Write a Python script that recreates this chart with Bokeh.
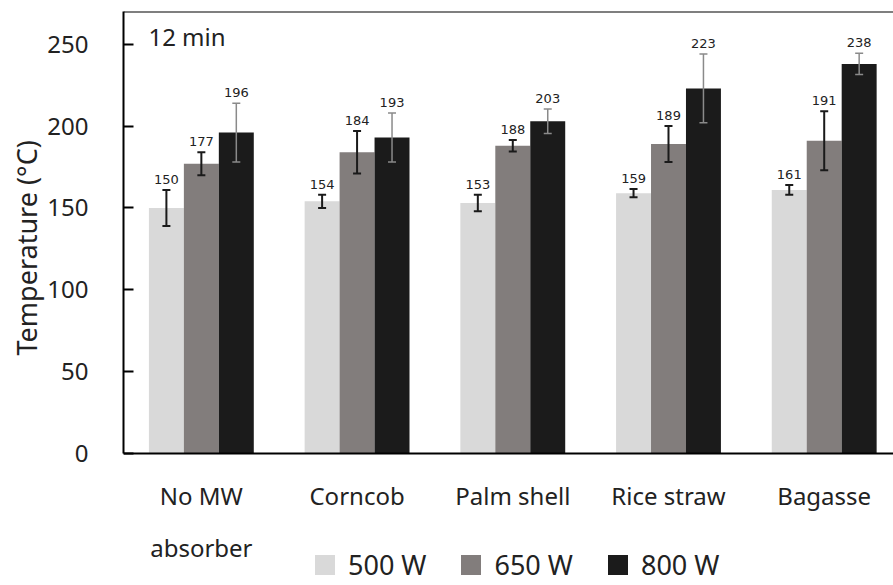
from bokeh.plotting import figure
from bokeh.models import (ColumnDataSource, Range1d, FixedTicker, Whisker, Span,
                          Label, Legend, LegendItem, TeeHead, Title)
from bokeh.core.properties import value
from bokeh.embed import file_html
from bokeh.resources import INLINE

# ---------------- data ----------------
categories = ["No MW\nabsorber", "Corncob", "Palm shell", "Rice straw", "Bagasse"]
series_names = ["500 W", "650 W", "800 W"]
temp_500 = [150, 154, 153, 159, 161]
temp_650 = [177, 184, 188, 189, 191]
temp_800 = [196, 193, 203, 223, 238]
err_500 = [11, 4, 5, 2.5, 3]
err_650 = [7, 13, 3.5, 11, 18]
err_800 = [18, 15, 7.5, 21, 6.5]
y_ticks = [0, 50, 100, 150, 200, 250]
time_label = "12 min"
y_title = "Temperature (°C)"

# ---------------- style ----------------
bar_colors = ["#d9d9d9", "#827d7c", "#1b1b1b"]
err_colors = ["#1a1a1a", "#1a1a1a", "#8a8a8a"]
err_widths = [2, 2, 1.5]
offsets = [-0.2245, 0.0, 0.2245]
bar_w = 0.2245
FONT = "Noto Sans"
Y_TOP = 270

p = figure(width=893, height=585, output_backend="svg", toolbar_location=None,
           x_range=Range1d(0, 4.945), y_range=Range1d(-80.7, Y_TOP),
           min_border_left=123, min_border_right=0, min_border_top=11,
           min_border_bottom=0)
p.background_fill_color = "white"
p.border_fill_color = "white"
p.outline_line_color = None
p.xgrid.visible = False
p.ygrid.visible = False

series_vals = [temp_500, temp_650, temp_800]
series_errs = [err_500, err_650, err_800]
renderers = []
for k in range(3):
    xs = [i + 0.5 + offsets[k] for i in range(len(categories))]
    vals = series_vals[k]
    errs = series_errs[k]
    src = ColumnDataSource(dict(
        x=xs, top=vals,
        upper=[v + e for v, e in zip(vals, errs)],
        lower=[v - e for v, e in zip(vals, errs)],
        lbl=[str(v) for v in vals],
    ))
    r = p.vbar(x="x", top="top", bottom=0, width=bar_w, source=src,
               fill_color=bar_colors[k], line_color=None)
    renderers.append(r)
    w = Whisker(base="x", upper="upper", lower="lower", source=src,
                line_color=err_colors[k], line_width=err_widths[k], level="annotation")
    w.upper_head = TeeHead(size=8, line_color=err_colors[k], line_width=err_widths[k])
    w.lower_head = TeeHead(size=8, line_color=err_colors[k], line_width=err_widths[k])
    p.add_layout(w)
    p.text(x="x", y="upper", text="lbl", source=src, text_align="center",
           text_baseline="bottom", y_offset=-6, text_font=value("DejaVu Sans"),
           text_font_size="13px", text_color="#222222")

# y axis
yax = p.yaxis[0]
yax.ticker = FixedTicker(ticks=y_ticks)
yax.bounds = (0, Y_TOP)
yax.minor_tick_line_color = None
yax.major_tick_in = 10
yax.major_tick_out = 0
yax.major_tick_line_color = "black"
yax.major_tick_line_width = 2
yax.axis_line_color = "black"
yax.axis_line_width = 2
yax.major_label_standoff = 35
yax.major_label_text_font = FONT
yax.major_label_text_font_size = "24px"
yax.major_label_text_color = "#222222"

# y title (placed along the axis, a little below the frame's middle as in the original)
p.add_layout(Title(text=y_title, align="left", offset=230, text_font=FONT,
                   text_font_size="27px", text_font_style="normal",
                   text_color="#222222", standoff=0), "left")

# x axis, drawn at y = 0
xax = p.xaxis[0]
xax.fixed_location = 0
xax.ticker = FixedTicker(ticks=[i + 0.5 for i in range(len(categories))])
xax.major_label_overrides = {i + 0.5: c for i, c in enumerate(categories)}
xax.minor_tick_line_color = None
xax.major_tick_line_color = None
xax.major_tick_in = 0
xax.major_tick_out = 0
xax.axis_line_color = "black"
xax.axis_line_width = 2
xax.major_label_standoff = 26
xax.major_label_text_font = FONT
xax.major_label_text_font_size = "24px"
xax.major_label_text_color = "#222222"
xax.major_label_text_line_height = 1.55

# top border
p.add_layout(Span(location=Y_TOP, dimension="width", line_color="black", line_width=2))

# time label
p.add_layout(Label(x=0.16, y=255, text=time_label, text_font=FONT,
                   text_font_size="24px", text_baseline="middle",
                   text_color="#222222"))

legend = Legend(items=[LegendItem(label=series_names[k], renderers=[renderers[k]])
                       for k in range(3)],
                location=(189, 2), orientation="horizontal",
                glyph_width=25, glyph_height=25, label_standoff=11, spacing=32,
                padding=0, margin=0, border_line_color=None,
                background_fill_alpha=0,
                label_text_font=FONT, label_text_font_size="27px",
                label_text_color="#222222")
p.add_layout(legend, "center")

open("out.html", "w").write(file_html(p, INLINE))
